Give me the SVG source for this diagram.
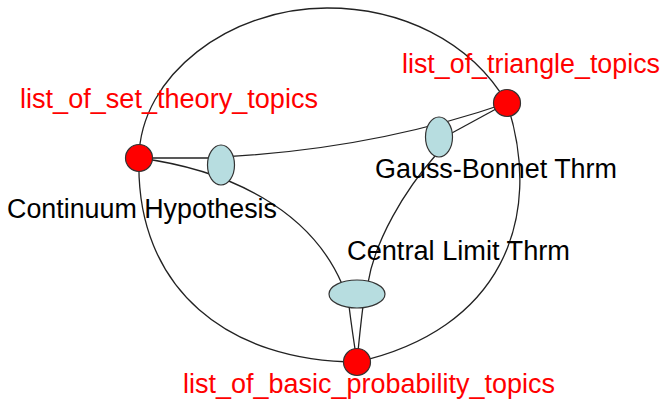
<svg xmlns="http://www.w3.org/2000/svg" width="663" height="410" viewBox="0 0 663 410">
<style>
.e{fill:none;stroke:#222;stroke-width:1.3}
.r{fill:#ff0000;stroke:#333;stroke-width:1.2}
.b{fill:#b7dde0;stroke:#333;stroke-width:1.2}
.lr{font-family:"Liberation Sans",Arial,sans-serif;font-size:27px;fill:#ff0000}
.lb{font-family:"Liberation Sans",Arial,sans-serif;font-size:27px;fill:#000}
</style>
<rect width="663" height="410" fill="#fff"/>
<g id="connectors">
<path class="e" d="M139,158 C140,75 230,8 327,8 C400,8 470,40 507,103"/>
<path class="e" d="M507,103 C545,220 500,330 357,362"/>
<path class="e" d="M357,362 C230,362 135,290 139,158"/>
<path class="e" d="M139,158 L221,158"/>
<path class="e" d="M139,158 C230,170 310,210 342,284"/>
<path class="e" d="M221,157 C300,153 400,140 507,103"/>
<path class="e" d="M439,140 L507,103"/>
<path class="e" d="M435,156 C405,190 375,240 368,283"/>
<path class="e" d="M349,306 Q352,330 357,362"/>
<path class="e" d="M363,306 Q360,330 357,362"/>
</g>
<g id="n_ch"><ellipse class="b" cx="221" cy="165" rx="13.5" ry="20"/><text class="lb" x="7" y="218" textLength="270" lengthAdjust="spacingAndGlyphs">Continuum Hypothesis</text></g>
<g id="n_gb"><ellipse class="b" cx="439" cy="137" rx="13.5" ry="20"/><text class="lb" x="375" y="178" textLength="242" lengthAdjust="spacingAndGlyphs">Gauss-Bonnet Thrm</text></g>
<g id="n_clt"><ellipse class="b" cx="357" cy="294" rx="28" ry="14"/><text class="lb" x="347" y="260" textLength="223" lengthAdjust="spacingAndGlyphs">Central Limit Thrm</text></g>
<g id="n_set"><circle class="r" cx="139" cy="158" r="13.5"/><text class="lr" x="20" y="108" textLength="298" lengthAdjust="spacingAndGlyphs">list_of_set_theory_topics</text></g>
<g id="n_tri"><circle class="r" cx="507" cy="103" r="13.5"/><text class="lr" x="402" y="73" textLength="258" lengthAdjust="spacingAndGlyphs">list_of_triangle_topics</text></g>
<g id="n_prob"><circle class="r" cx="357" cy="362" r="13.5"/><text class="lr" x="183" y="393" textLength="372" lengthAdjust="spacingAndGlyphs">list_of_basic_probability_topics</text></g>
</svg>
